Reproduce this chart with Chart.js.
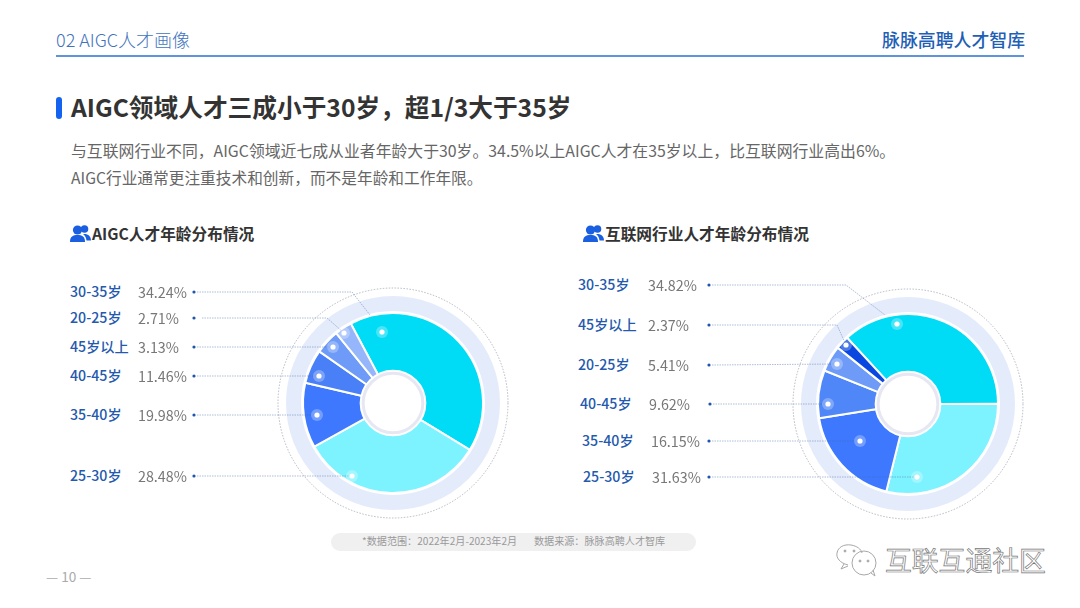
<!DOCTYPE html>
<html lang="zh"><head><meta charset="utf-8">
<script src="https://cdn.jsdelivr.net/npm/chart.js@4"></script>
<style>
html,body{margin:0;padding:0;background:#fff}
body{width:1080px;height:608px;position:relative;overflow:hidden;font-family:"Noto Sans CJK SC","Noto Sans",sans-serif}
.t{position:absolute;white-space:nowrap;transform:translateY(-50%);line-height:1.2}
canvas{position:absolute}
.rule{position:absolute;left:56px;top:55px;width:968px;height:2px;background:#5f93dc}
.mark{position:absolute;left:56px;top:97px;width:6px;height:22px;border-radius:3px;background:#1463F0}
.pill{position:absolute;left:331px;top:533px;width:365px;height:18px;border-radius:9px;background:#f0f0f1}
.icon{position:absolute}
</style></head><body>
<div class="t" style="left:56px;top:40px;font-size:18px;color:#3f74bd;font-weight:300">02 AIGC人才画像</div>
<div class="t" style="left:882px;top:40px;font-size:17.9px;color:#1f5fb6;font-weight:500">脉脉高聘人才智库</div>
<div class="rule"></div>
<div class="mark"></div>
<div class="t" style="left:71px;top:107px;font-size:24.7px;color:#333;font-weight:700">AIGC领域人才三成小于30岁，超1/3大于35岁</div>
<div class="t" style="left:71px;top:149.5px;font-size:15.85px;color:#666">与互联网行业不同，AIGC领域近七成从业者年龄大于30岁。34.5%以上AIGC人才在35岁以上，比互联网行业高出6%。</div>
<div class="t" style="left:71px;top:177.5px;font-size:15.7px;color:#666">AIGC行业通常更注重技术和创新，而不是年龄和工作年限。</div>
<svg class="icon" style="left:70px;top:224px" width="21" height="20" viewBox="0 0 21 20"><use href="#ppl"/></svg>
<div class="t" style="left:92px;top:234px;font-size:15.7px;color:#333;font-weight:700">AIGC人才年龄分布情况</div>
<svg class="icon" style="left:583px;top:224px" width="21" height="20" viewBox="0 0 21 20"><use href="#ppl"/></svg>
<div class="t" style="left:605px;top:234px;font-size:15.7px;color:#333;font-weight:700">互联网行业人才年龄分布情况</div>
<div class="pill"></div>
<div class="t" style="left:362px;top:541px;font-size:10.1px;color:#999">*数据范围：2022年2月-2023年2月</div>
<div class="t" style="left:534px;top:541px;font-size:10.1px;color:#999">数据来源：脉脉高聘人才智库</div>
<div class="t" style="left:46px;top:576px;font-size:13.6px;color:#aaa">— 10 —</div>
<svg class="icon" style="left:834px;top:543px" width="48" height="34" viewBox="0 0 48 34" fill="none" stroke="#a8a8a8" stroke-width="1">
<path d="M14 22 C6 20 2 15 3 10 C4 4 10 1 17 2 C23 3 27 6 28 10"/><path d="M10 21 L7 26 L14 23"/>
<circle cx="30" cy="20" r="12"/><path d="M37 30 L41 33 L39 27"/>
<circle cx="11" cy="8" r="1" fill="#a8a8a8"/><circle cx="20" cy="8" r="1" fill="#a8a8a8"/><circle cx="26" cy="18" r="1" fill="#a8a8a8"/><circle cx="34" cy="18" r="1" fill="#a8a8a8"/>
</svg>
<div class="t" style="left:885px;top:560px;font-size:26.8px;color:#fff;-webkit-text-stroke:.7px #777">互联互通社区</div>
<svg width="0" height="0" style="position:absolute"><defs><g id="ppl" fill="#1a5fe0">
<circle cx="7.5" cy="6" r="4.6"/><path d="M0 18 C0 12.5 3 11 7.5 11 C12 11 15 12.5 15 18 Z"/>
<circle cx="14.5" cy="5" r="3.8"/><path d="M13 10 C18 9.5 21 12 21 16.5 L16.5 16.5 C16.2 13.5 15 11.5 13 10 Z"/></g></defs></svg>
<canvas id="left" style="left:180px;top:270px"></canvas>
<canvas id="right" style="left:695px;top:270px"></canvas>
<script>
// Categories in clockwise slice order
const leftCategories  = ['30-35岁','25-30岁','35-40岁','40-45岁','45岁以上','20-25岁'];
const rightCategories = ['30-35岁','25-30岁','35-40岁','40-45岁','20-25岁','45岁以上'];
// Percentages printed next to each category
const leftPrinted  = [34.24,28.48,19.98,11.46,3.13,2.71];
const rightPrinted = [34.82,31.63,16.15,9.62,5.41,2.37];
// Slice shares as actually drawn in the picture (%)
const leftSliceShares  = [41.5,33.2,11.7,6.1,4.4,3.1];
const rightSliceShares = [36.8,28.9,18.6,8.6,4.7,2.4];
const leftColors  = ['#00DCF6','#7DF3FF','#3D78FF','#4A80F7','#6E9AF8','#95B6FA'];
const rightColors = ['#00DCF6','#7DF3FF','#3D78FF','#4F86F8','#6E9AF8','#0A47E0'];
// Layout
const leftLayout = {canvasX:180,canvasY:270,width:340,height:260,padding:{left:123,right:37,top:43,bottom:37},rotation:-28,
  labelX:[70,70,70,70,70,70],pctX:[138,138,138,138,138,138],bulletX:[194,194,194,194,194,194],startX:[197,197,197,197,197,202],
  rowY:[292,476,415,376,347,318],
  bend:[[352,292],null,null,null,null,[327,318]],
  end:[[370,315],[352,476],[317,415],[319,376],[333,347],[344,333]],
  spot:[[382,332],[352,476],[317,415],[319,376],[333,347],[344,333]]};
const rightLayout = {canvasX:695,canvasY:270,width:345,height:260,padding:{left:123,right:42,top:44,bottom:36},rotation:-42.6,
  labelX:[578,583,582,580,578,578],pctX:[648,652,651,649,648,648],bulletX:[709,709,709,710,709,709],startX:[712,712,712,713,712,712],
  rowY:[285,477,441,404,365,325],
  bend:[[846,285],null,null,null,null,[837,325]],
  end:[[885,315],[917,477],[860,441],[828,404],[837,364],[846,345]],
  spot:[[897,324],[917,477],[860,441],[828,404],[837,364],[846,345]]};

const decor = {
  id:'decor',
  beforeDatasetsDraw(chart){
    const a = chart.getDatasetMeta(0).data[0], c = chart.ctx, R = a.outerRadius;
    c.save();
    c.strokeStyle='#E4EBFB'; c.lineWidth=15;
    c.beginPath(); c.arc(a.x,a.y,R+9.5,0,Math.PI*2); c.stroke();
    c.strokeStyle='#9a9ea8'; c.lineWidth=.7; c.setLineDash([1.5,1.5]);
    c.beginPath(); c.arc(a.x,a.y,R+25,0,Math.PI*2); c.stroke();
    c.restore();
  },
  afterDatasetsDraw(chart,args,o){
    const a = chart.getDatasetMeta(0).data[0], c = chart.ctx, L = o.layout;
    const X = x=>x-L.canvasX, Y = y=>y-L.canvasY;
    c.save();
    // centre hole ring
    c.strokeStyle='#fff'; c.lineWidth=2; c.beginPath(); c.arc(a.x,a.y,a.innerRadius+1,0,Math.PI*2); c.stroke();
    c.strokeStyle='#E6E7F2'; c.lineWidth=3; c.beginPath(); c.arc(a.x,a.y,a.innerRadius-1.5,0,Math.PI*2); c.stroke();
    L.rowY.forEach((y,i)=>{
      c.strokeStyle='rgba(70,105,165,.55)'; c.lineWidth=.8; c.setLineDash([1.5,1]);
      c.beginPath(); c.moveTo(X(L.startX[i]),Y(y));
      if(L.bend[i]) c.lineTo(X(L.bend[i][0]),Y(L.bend[i][1]));
      c.lineTo(X(L.end[i][0]),Y(L.end[i][1])); c.stroke(); c.setLineDash([]);
      c.fillStyle='#1F55B0'; c.beginPath(); c.arc(X(L.bulletX[i]),Y(y),1.6,0,Math.PI*2); c.fill();
      const s=L.spot[i];
      c.fillStyle='rgba(255,255,255,.28)'; c.beginPath(); c.arc(X(s[0]),Y(s[1]),6,0,Math.PI*2); c.fill();
      c.fillStyle='#fff'; c.beginPath(); c.arc(X(s[0]),Y(s[1]),2.6,0,Math.PI*2); c.fill();
    });
    c.restore();
  }
};
function draw(id,cats,shares,colors,L){
  const el=document.getElementById(id);
  el.style.width=L.width+'px'; el.style.height=L.height+'px'; el.width=L.width; el.height=L.height;
  new Chart(el,{type:'doughnut',plugins:[decor],
    data:{labels:cats,datasets:[{data:shares,backgroundColor:colors,borderColor:'#fff',borderWidth:2,hoverOffset:0}]},
    options:{responsive:false,animation:false,events:[],devicePixelRatio:window.devicePixelRatio,rotation:L.rotation,radius:90,cutout:31,
      layout:{padding:L.padding},plugins:{legend:{display:false},tooltip:{enabled:false},title:{display:false},decor:{layout:L}}}});
}
function text(s,x,y,style){const d=document.createElement('div');d.className='t';d.textContent=s;
  d.style.cssText=`left:${x}px;top:${y}px;`+style;document.body.appendChild(d);}
function rows(cats,pcts,L){cats.forEach((n,i)=>{
  text(n,L.labelX[i],L.rowY[i],'font-size:14.2px;color:#2459ad;font-weight:500');
  text(pcts[i].toFixed(2)+'%',L.pctX[i],L.rowY[i],'font-size:14.3px;color:#777');
});}
draw('left',leftCategories,leftSliceShares,leftColors,leftLayout);
draw('right',rightCategories,rightSliceShares,rightColors,rightLayout);
rows(leftCategories,leftPrinted,leftLayout);
rows(rightCategories,rightPrinted,rightLayout);
</script>
</body></html>
